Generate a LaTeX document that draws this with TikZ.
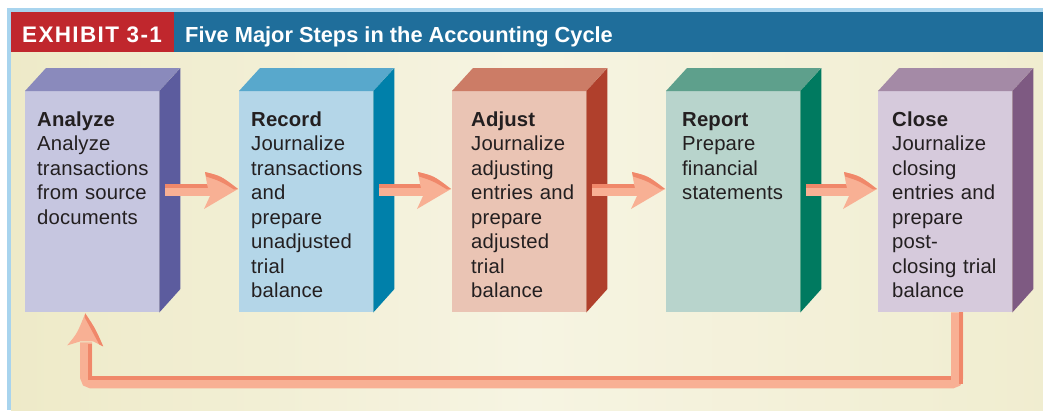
\documentclass[tikz,border=0pt]{standalone}
\usepackage{fontspec}
\setmainfont{Liberation Sans}
\newfontfamily\stepfont[LetterSpace=0.8]{Liberation Sans}
\newfontfamily\exhfont[LetterSpace=6]{Liberation Sans}
\usetikzlibrary{calc}

% palette
\definecolor{framebl}{HTML}{A8D4EE}
\definecolor{hdrred}{HTML}{C0272D}
\definecolor{hdrblue}{HTML}{1F6E9B}
\definecolor{creamA}{HTML}{EEEAC8}
\definecolor{creamB}{HTML}{F6F4E2}
\definecolor{inktext}{HTML}{231F20}
\definecolor{arrowlt}{HTML}{F8B094}
\definecolor{arrowdk}{HTML}{F0886A}
% Analyze
\definecolor{anFront}{HTML}{C6C6E0}
\definecolor{anTop}{HTML}{8A8ABC}
\definecolor{anSide}{HTML}{5C5C9E}
% Record
\definecolor{reFront}{HTML}{B4D6E8}
\definecolor{reTop}{HTML}{58A8CC}
\definecolor{reSide}{HTML}{0080AA}
% Adjust
\definecolor{adFront}{HTML}{EAC4B4}
\definecolor{adTop}{HTML}{CC7C66}
\definecolor{adSide}{HTML}{B0402C}
% Report
\definecolor{rpFront}{HTML}{B8D4CC}
\definecolor{rpTop}{HTML}{5EA08C}
\definecolor{rpSide}{HTML}{007A60}
% Close
\definecolor{clFront}{HTML}{D6CADC}
\definecolor{clTop}{HTML}{A48AA6}
\definecolor{clSide}{HTML}{7E5A82}

\tikzset{
  frontface/.style={draw=none, inner sep=0pt, anchor=north west,
    minimum width=134pt, minimum height=221pt},
  steptext/.style={inner sep=0pt, anchor=base west, text=inktext,
    text width=128pt, align=left,
    font=\stepfont\fontsize{20.3pt}{24.5pt}\selectfont},
  hdrtext/.style={inner sep=0pt, anchor=base west, text=white}
}

% a block: front face node plus its top and side faces
\newcommand\stepblock[6]{% name, x, y, front, top, side
  \node[frontface, fill=#4] (#1) at (#2,#3) {};
  \fill[#5] (#1.north west) -- ++(21,-23) -- ++(134,0) -- (#1.north east) -- cycle;
  \fill[#6] (#1.north east) -- ++(21,-23) -- ++(0,221) -- (#1.south east) -- cycle;
}

% a shaded arrow from one block to the next
\newcommand\steparrow[2]{%
  \coordinate (sa) at ($(#1.north east)+(6,99)$);
  \coordinate (ta) at ($(#2.north west)+(-1,98)$);
  \fill[arrowlt] ($(sa)+(0,-6)$) rectangle ($(ta)+(-27,7)$);
  \fill[arrowdk] ($(sa)+(0,-6)$) rectangle ($(ta)+(-27,-1.5)$);
  \fill[arrowlt] ($(ta)+(-33,-17)$) .. controls ($(ta)+(-17,-13)$) .. (ta)
     -- ($(ta)+(-34,20)$) -- ($(ta)+(-28,7)$) -- ($(ta)+(-31,-5)$) -- cycle;
  \fill[arrowdk] ($(ta)+(-33,-17)$) .. controls ($(ta)+(-17,-13)$) .. (ta)
     -- ($(ta)+(-4,0.5)$) .. controls ($(ta)+(-18,-8)$) .. ($(ta)+(-32,-12.5)$) -- cycle;
}

\begin{document}
\begin{tikzpicture}[x=1pt,y=-1pt]
\useasboundingbox (0,0) rectangle (1043,410);
\fill[white] (0,0) rectangle (1043,410);

% frame, panel and heading bar
\fill[framebl] (7,8) rectangle (1043,410);
\shade[left color=creamA, right color=creamA!70!creamB, middle color=creamB]
  (11,52) rectangle (1043,410);
\fill[hdrred] (11,12) rectangle (174,52);
\fill[hdrblue] (174,12) rectangle (1043,52);
\node[hdrtext, font=\exhfont\bfseries\fontsize{22.5pt}{26pt}\selectfont] (exh) at (22,42) {EXHIBIT 3-1};
\node[hdrtext, font=\bfseries\fontsize{21.8pt}{26pt}\selectfont] (ttl) at (185,42) {Five Major Steps in the Accounting Cycle};

% the five blocks
\stepblock{b1}{25}{91}{anFront}{anTop}{anSide}
\stepblock{b2}{239}{91}{reFront}{reTop}{reSide}
\stepblock{b3}{452}{91}{adFront}{adTop}{adSide}
\stepblock{b4}{666}{91}{rpFront}{rpTop}{rpSide}
\stepblock{b5}{878}{91}{clFront}{clTop}{clSide}

% block texts
\node[steptext] (t1) at ($(b1.north west)+(12,35)$)
  {\textbf{Analyze}\\Analyze\\transactions\\from source\\documents};
\node[steptext] (t2) at ($(b2.north west)+(12,35)$)
  {\textbf{Record}\\Journalize\\transactions\\and\\prepare\\unadjusted\\trial\\balance};
\node[steptext] (t3) at ($(b3.north west)+(19,35)$)
  {\textbf{Adjust}\\Journalize\\adjusting\\entries and\\prepare\\adjusted\\trial\\balance};
\node[steptext] (t4) at ($(b4.north west)+(16,35)$)
  {\textbf{Report}\\Prepare\\financial\\statements};
\node[steptext] (t5) at ($(b5.north west)+(14,35)$)
  {\textbf{Close}\\Journalize\\closing\\entries and\\prepare\\post-\\closing trial\\balance};

% arrows between blocks
\steparrow{b1}{b2}
\steparrow{b2}{b3}
\steparrow{b3}{b4}
\steparrow{b4}{b5}

% return arrow from Close back to Analyze
\coordinate (r1) at ($(b5.south)+(12,0)$);
\coordinate (r2) at ($(b1.south)+(-6,0)$);
\coordinate (ra) at ($(r2)+(-1,1)$);
\draw[arrowlt, line width=12pt, rounded corners=5pt]
  (r1) -- ($(r1)+(0,70)$) -| ($(r2)+(0,30)$);
\draw[arrowdk, line width=4pt] ($(r1)+(4,0)$) -- ($(r1)+(4,72)$);
\draw[arrowdk, line width=4pt] ($(r2)+(3.5,32)$) |- ($(r1)+(-6,66)$);
\fill[arrowlt] (ra) .. controls ($(ra)+(10,15)$) .. ($(ra)+(18,33)$)
  -- ($(ra)+(8,28)$) -- ($(ra)+(-5,28)$) -- ($(ra)+(-18,32)$)
  .. controls ($(ra)+(-8,20)$) .. (ra) -- cycle;
\fill[arrowdk] (ra) .. controls ($(ra)+(10,15)$) .. ($(ra)+(18,33)$)
  -- ($(ra)+(14,31)$) .. controls ($(ra)+(6,16)$) .. ($(ra)+(-0.5,4)$) -- cycle;
\end{tikzpicture}
\end{document}
